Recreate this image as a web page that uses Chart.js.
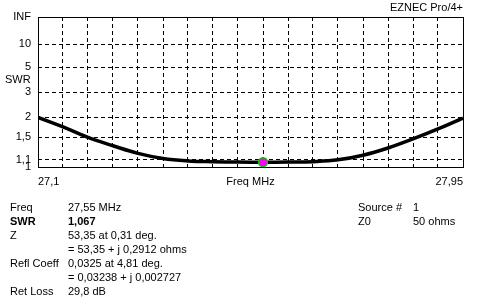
<!DOCTYPE html>
<html>
<head>
<meta charset="utf-8">
<script src="https://cdn.jsdelivr.net/npm/chart.js@4"></script>
<style>
  html, body { margin: 0; padding: 0; background: #fff; }
  #wrap { width: 489px; height: 306px; position: relative; }
</style>
</head>
<body>
<div id="wrap"><canvas id="swr" width="489" height="306"></canvas></div>
<script>
// frequency sweep, MHz
const freqs = [27.10, 27.15, 27.20, 27.25, 27.30, 27.35, 27.40, 27.45, 27.50,
               27.55, 27.60, 27.65, 27.70, 27.75, 27.80, 27.85, 27.90, 27.95];
// SWR
const swr = [1.99, 1.73, 1.49, 1.33, 1.20, 1.12, 1.085, 1.074, 1.068,
             1.067, 1.068, 1.074, 1.10, 1.17, 1.29, 1.46, 1.68, 1.97];
// marker
const markerFreq = 27.55;
const markerSwr = 1.067;
// SWR axis ticks (INF = Infinity)
const yTickValues = [1, 1.1, 1.5, 2, 3, 5, 10, Infinity];
const yTickLabels = ["1", "1,1", "1,5", "2", "3", "5", "10", "INF"];
// readout block
const infoLeft = [
  ["Freq", "27,55 MHz"],
  ["SWR", "1,067"],
  ["Z", "53,35 at 0,31 deg."],
  ["", "= 53,35 + j 0,2912 ohms"],
  ["Refl Coeff", "0,0325 at 4,81 deg."],
  ["", "= 0,03238 + j 0,002727"],
  ["Ret Loss", "29,8 dB"]
];
const infoRight = [
  ["Source #", "1"],
  ["Z0", "50 ohms"]
];

// EZNEC plots SWR on a reflection-coefficient scale
function toRho(s) {
  if (!isFinite(s)) return 1;
  return (s - 1) / (s + 1);
}

const FONT = "11px 'Liberation Sans', Arial, sans-serif";

const textPlugin = {
  id: "ezText",
  beforeDatasetsDraw(chart) {
    const ctx = chart.ctx;
    const a = chart.chartArea;
    ctx.save();
    ctx.strokeStyle = "#000";
    ctx.lineWidth = 1;
    ctx.setLineDash([]);
    ctx.strokeRect(Math.round(a.left) + 0.5, Math.round(a.top) + 0.5,
                   Math.round(a.right - a.left), Math.round(a.bottom - a.top));
    ctx.restore();
  },
  afterDraw(chart) {
    const ctx = chart.ctx;
    const a = chart.chartArea;
    ctx.save();
    ctx.fillStyle = "#000";
    ctx.font = FONT;
    ctx.textBaseline = "middle";

    ctx.textAlign = "right";
    ctx.fillText("EZNEC Pro/4+", a.right, 7.5);

    ctx.textAlign = "left";
    ctx.fillText("SWR", 5, 80);

    ctx.textAlign = "center";
    ctx.fillText("Freq MHz", (a.left + a.right) / 2, 181.5);

    ctx.textAlign = "left";
    infoLeft.forEach((row, i) => {
      ctx.font = (row[0] === "SWR" ? "bold " : "") + FONT;
      const y = 207.5 + i * 14;
      ctx.fillText(row[0], 10, y);
      ctx.fillText(row[1], 68, y);
    });
    ctx.font = FONT;
    infoRight.forEach((row, i) => {
      const y = 207.5 + i * 14;
      ctx.fillText(row[0], 358, y);
      ctx.fillText(row[1], 413, y);
    });
    ctx.restore();
  }
};

new Chart(document.getElementById("swr"), {
  type: "line",
  data: {
    datasets: [
      {
        data: freqs.map((f, i) => ({ x: f, y: toRho(swr[i]) })),
        borderColor: "#000",
        borderWidth: 3.5,
        pointRadius: 0,
        tension: 0.4,
        fill: false,
        order: 2
      },
      {
        type: "scatter",
        data: [{ x: markerFreq, y: toRho(markerSwr) }],
        pointRadius: 4.5,
        pointBackgroundColor: "#ff00ff",
        pointBorderColor: "#00c800",
        pointBorderWidth: 1.5,
        order: 1
      }
    ]
  },
  options: {
    responsive: false,
    animation: false,
    layout: { padding: { left: 0, top: 17, right: 26, bottom: 0 } },
    plugins: { legend: { display: false }, tooltip: { enabled: false } },
    scales: {
      x: {
        type: "linear",
        min: freqs[0],
        max: freqs[freqs.length - 1],
        afterBuildTicks(scale) {
          scale.ticks = freqs.map(f => ({ value: f }));
        },
        afterFit(scale) { scale.height = 306 - 167; },
        grid: { color: "#000", lineWidth: 1, drawTicks: false },
        border: { display: false, dash: [4, 3] },
        ticks: {
          autoSkip: false,
          maxRotation: 0,
          align: "inner",
          padding: 8,
          color: "#000",
          font: { family: "'Liberation Sans', Arial, sans-serif", size: 11 },
          callback(value, index, ticks) {
            if (index === 0 || index === ticks.length - 1) {
              return String(value).replace(".", ",");
            }
            return "";
          }
        }
      },
      y: {
        type: "linear",
        min: 0,
        max: 1,
        afterBuildTicks(scale) {
          scale.ticks = yTickValues.map(v => ({ value: toRho(v) }));
        },
        afterFit(scale) { scale.width = 38; },
        grid: { color: "#000", lineWidth: 1, drawTicks: false },
        border: { display: false, dash: [4, 3] },
        ticks: {
          autoSkip: false,
          padding: 7,
          color: "#000",
          font: { family: "'Liberation Sans', Arial, sans-serif", size: 11 },
          callback(value, index) { return yTickLabels[index]; }
        }
      }
    }
  },
  plugins: [textPlugin]
});
</script>
</body>
</html>
